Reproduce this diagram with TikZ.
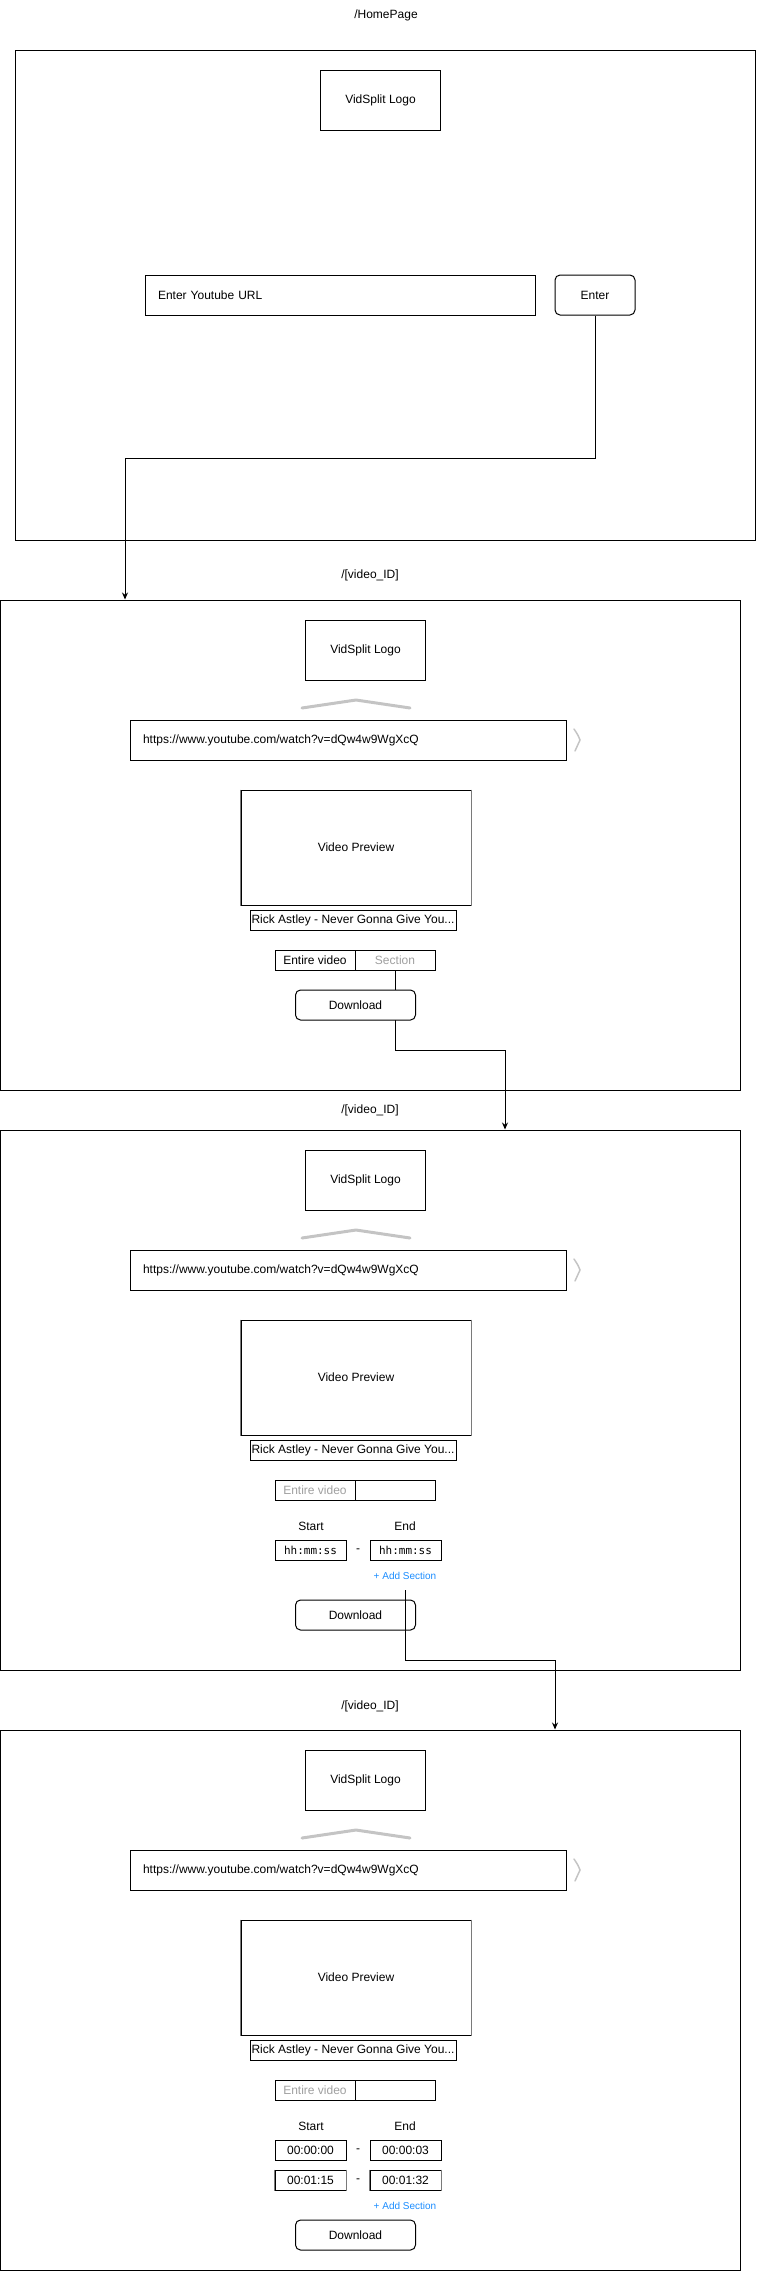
\documentclass[tikz,border=0pt]{standalone}
\usepackage{fontspec}
\setmainfont{Liberation Sans}
\newfontfamily\monofnt{DejaVu Sans Mono}
\usetikzlibrary{arrows.meta}
\definecolor{lgray}{HTML}{C4C4C4}
\definecolor{tgray}{HTML}{A0A0A0}
\definecolor{linkblue}{HTML}{1A8CFF}
\definecolor{sidegray}{HTML}{7A7A7A}
\newcommand\vpage[2]{%
  \node[box, minimum width=120pt, minimum height=60pt] (logo#1) at (365.5,{650+#2}) {VidSplit Logo};
  \draw[chev] (302,{708+#2}) -- (356,{700+#2}) -- (410,{708+#2});
  \node[box, minimum height=40pt, text width=410pt, inner xsep=13pt, align=left] (url#1) at (348,{740+#2}) {https://www.youtube.com/watch?v=dQw4w9WgXcQ};
  \draw[brk] (574,{729+#2}) .. controls (578,{735+#2}) .. (580,{740+#2}) .. controls (578,{745+#2}) .. (575,{751+#2});
  \node[box, minimum width=230pt, minimum height=115pt] (prev#1) at (356,{847.5+#2}) {Video Preview};
  \draw[sidegray, line width=1.5pt] (prev#1.north west) -- (prev#1.south west) (prev#1.north east) -- (prev#1.south east);
  \node[box, minimum width=206pt, minimum height=20pt] (title#1) at (353,{920+#2}) {Rick Astley - Never Gonna Give You...};
}
\begin{document}
\begin{tikzpicture}[x=1pt,y=-1pt,
  every node/.style={font=\fontsize{12}{14}\selectfont, inner sep=0pt},
  box/.style={draw, line width=1pt, fill=white},
  btn/.style={box, rounded corners=5pt},
  frm/.style={draw, line width=1pt},
  timebox/.style={box, minimum width=71pt, minimum height=20pt},
  arr/.style={draw, line width=1pt, -{Stealth[length=7pt,width=6pt]}},
  chev/.style={draw=lgray, line width=3pt, line cap=round, line join=round},
  brk/.style={draw=lgray, line width=1.5pt, line cap=round},
  link/.style={text=linkblue, font=\fontsize{10}{12}\selectfont, minimum height=28pt},
]
\useasboundingbox (0,0) rectangle (756,2271);
% frames
\node[frm, minimum width=740pt, minimum height=490pt] (f1) at (385,295) {};
\node[frm, minimum width=740pt, minimum height=490pt] (f2) at (370.5,845) {};
\node[frm, minimum width=740pt, minimum height=540pt] (f3) at (370.5,1400) {};
\node[frm, minimum width=740pt, minimum height=540pt] (f4) at (370.5,2000) {};
% page labels
\node (t1) at (386,15) {/HomePage};
\node (t2) at (370,575) {/[video\_ID]};
\node (t3) at (370,1110) {/[video\_ID]};
\node (t4) at (370,1706) {/[video\_ID]};
% homepage
\node[box, minimum width=120pt, minimum height=60pt] (logo1) at (380.5,100) {VidSplit Logo};
\node[box, minimum height=40pt, text width=364pt, inner xsep=13pt, align=left] (url1) at (340,295) {Enter Youtube URL};
\node[btn, minimum width=80pt, minimum height=40pt] (enter) at (595,295) {Enter};
\coordinate (k1) at (125,458);
\draw[arr] (enter.south) |- (k1) -- (k1 |- f2.north);
% page 2
\vpage{2}{0}
\node[box, minimum width=80pt, minimum height=20pt] (ent2) at (315,960) {Entire video};
\node[box, minimum width=80pt, minimum height=20pt, text=tgray] (sec2) at (395,960) {Section};
\coordinate (k2) at (505,1050);
\draw[arr] (sec2.south) |- (k2) -- (k2 |- f3.north);
\node[btn, minimum width=120pt, minimum height=30pt] (dl2) at (355.5,1005) {Download};
% page 3
\vpage{3}{530}
\node[box, minimum width=80pt, minimum height=20pt, text=tgray] (ent3) at (315,1490) {Entire video};
\node[box, minimum width=80pt, minimum height=20pt] (sec3) at (395,1490) {};
\node (st3) at (311,1526) {Start};
\node (en3) at (405,1526) {End};
\node[timebox, font=\monofnt\fontsize{11}{13}\selectfont] (s3a) at (310.5,1550) {hh:mm:ss};
\node (d3a) at (358,1551) {-};
\node[timebox, font=\monofnt\fontsize{11}{13}\selectfont] (e3a) at (405.5,1550) {hh:mm:ss};
\node[link] (add3) at (405,1576) {+ Add Section};
\node[btn, minimum width=120pt, minimum height=30pt] (dl3) at (355.5,1615) {Download};
\coordinate (k3) at (555,1660);
\draw[arr] (add3.south) |- (k3) -- (k3 |- f4.north);
% page 4
\vpage{4}{1130}
\node[box, minimum width=80pt, minimum height=20pt, text=tgray] (ent4) at (315,2090) {Entire video};
\node[box, minimum width=80pt, minimum height=20pt] (sec4) at (395,2090) {};
\node (st4) at (311,2126) {Start};
\node (en4) at (405,2126) {End};
\node[timebox] (s4a) at (310.5,2150) {00:00:00};
\node (d4a) at (358,2151) {-};
\node[timebox] (e4a) at (405.5,2150) {00:00:03};
\node[timebox] (s4b) at (310.5,2180) {00:01:15};
\node (d4b) at (358,2181) {-};
\node[timebox] (e4b) at (405.5,2180) {00:01:32};
\draw[sidegray, line width=1.5pt] (s4b.north west) -- (s4b.south west) (s4b.north east) -- (s4b.south east)
  (e4b.north west) -- (e4b.south west) (e4b.north east) -- (e4b.south east);
\node[link] (add4) at (405,2206) {+ Add Section};
\node[btn, minimum width=120pt, minimum height=30pt] (dl4) at (355.5,2235) {Download};
\end{tikzpicture}
\end{document}
